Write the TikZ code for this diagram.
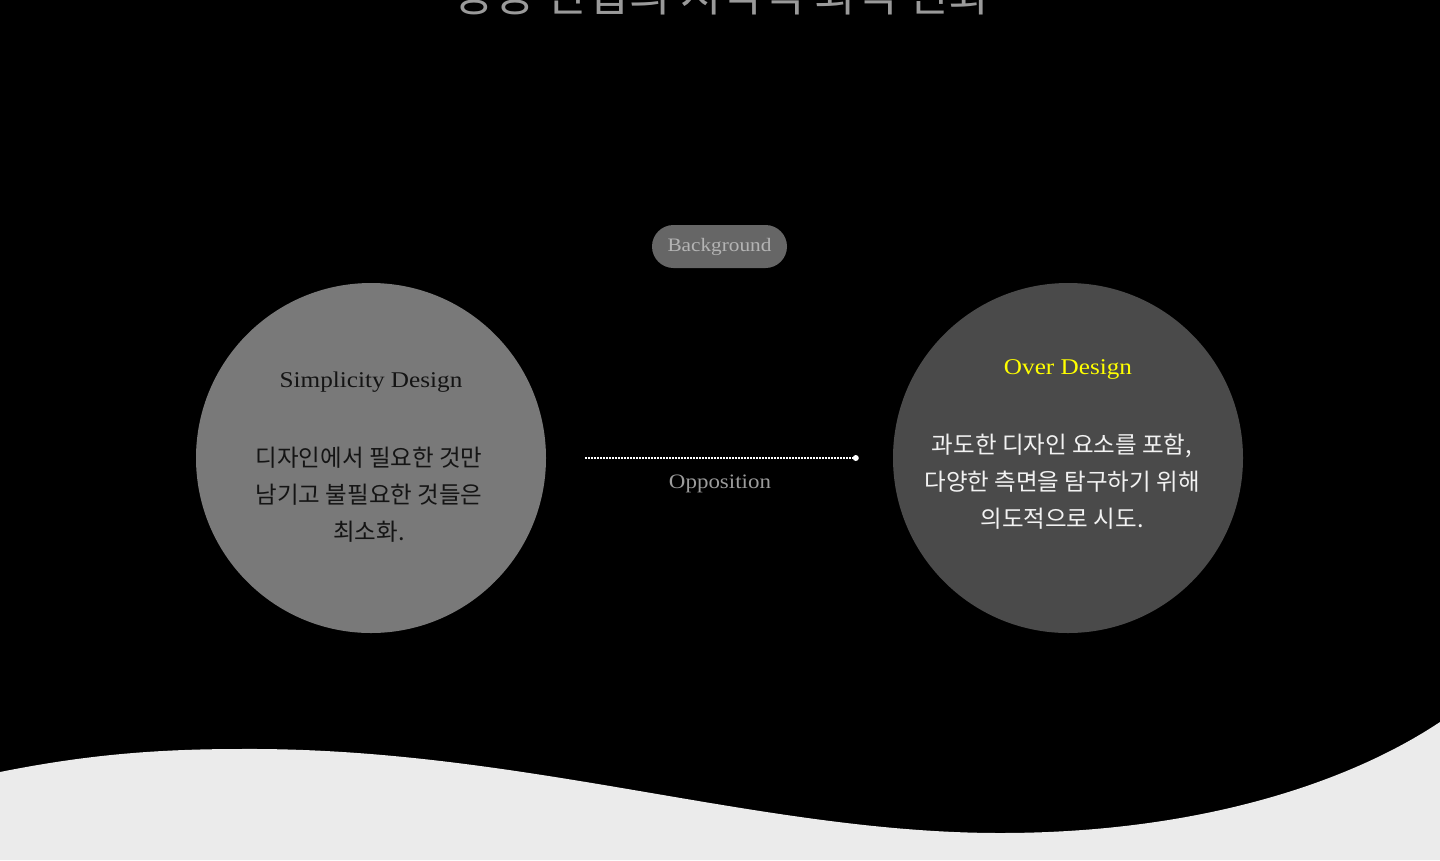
\documentclass[tikz,border=0pt]{standalone}
\usepackage{fontspec}
\setmainfont{Liberation Serif}[FakeStretch=1.12]
\newfontfamily\kr{Noto Sans CJK KR}
\usetikzlibrary{calc}
\definecolor{bgblack}{HTML}{000000}
\definecolor{wave}{HTML}{EBEBEB}
\definecolor{leftfill}{HTML}{797979}
\definecolor{rightfill}{HTML}{4A4A4A}
\definecolor{pillfill}{HTML}{666666}
\definecolor{pilltext}{HTML}{B4B4B4}
\definecolor{titlegray}{HTML}{9A9A9A}
\definecolor{opptext}{HTML}{9C9C9C}
\definecolor{darktext}{HTML}{141414}
\definecolor{lighttext}{HTML}{F2F2F2}
\definecolor{overyellow}{HTML}{FFFF00}
\tikzset{
  bubble/.style={circle, minimum size=350pt, inner sep=0pt},
  heading/.style={font=\fontsize{22.5}{27}\selectfont, inner sep=0pt},
  krbody/.style={font=\kr\fontsize{23.5}{37}\selectfont, align=center, inner sep=0pt},
  pill/.style={rounded corners=21.5pt, fill=pillfill, minimum width=135pt, minimum height=43pt, inner sep=0pt,
    text=pilltext, font=\fontsize{19}{23}\selectfont},
  link/.style={draw=white, line width=1.3pt, dash pattern=on 1.3pt off 1.7pt},
}
\begin{document}
\begin{tikzpicture}[x=1pt,y=-1pt]
\useasboundingbox (0,0) rectangle (1440,860);
\fill[bgblack] (0,0) rectangle (1440,860);
% title (cut off at top)
\node[anchor=base, text=titlegray, font=\kr\fontsize{45}{50}\selectfont, inner sep=0pt] (title) at (722,11) {상상 간섭의 시각적 최적 변화};
% wave
\fill[wave] (0,772) .. controls (80,756) and (150,749) .. (240,749)
  .. controls (520,747) and (760,833) .. (1000,833)
  .. controls (1200,833) and (1350,782) .. (1440,722)
  -- (1440,860) -- (0,860) -- cycle;
% circles
\node[bubble, fill=leftfill] (L) at (371,458) {};
\node[bubble, fill=rightfill] (R) at (1068,458) {};
% pill
\node[pill] (bg) at (719.5,246.5) {Background};
% left texts
\node[heading, text=darktext] (lt) at (371,382) {Simplicity Design};
\node[krbody, text=darktext] (lb) at (369,495) {디자인에서 필요한 것만\\남기고 불필요한 것들은\\최소화.};
% right texts
\node[heading, text=overyellow] (rt) at (1068,369) {Over Design};
\node[krbody, text=lighttext] (rb) at (1062,482) {과도한 디자인 요소를 포함,\\다양한 측면을 탐구하기 위해\\의도적으로 시도.};
% connector
\coordinate (a) at ($(L.east)+(39,0)$);
\coordinate (b) at ($(R.west)+(-37,0)$);
\draw[link] (a) -- (b);
\fill[white] (b) circle (3pt);
\node[text=opptext, font=\fontsize{20.5}{24}\selectfont, inner sep=0pt] (opp) at (720,484) {Opposition};
\end{tikzpicture}
\end{document}
